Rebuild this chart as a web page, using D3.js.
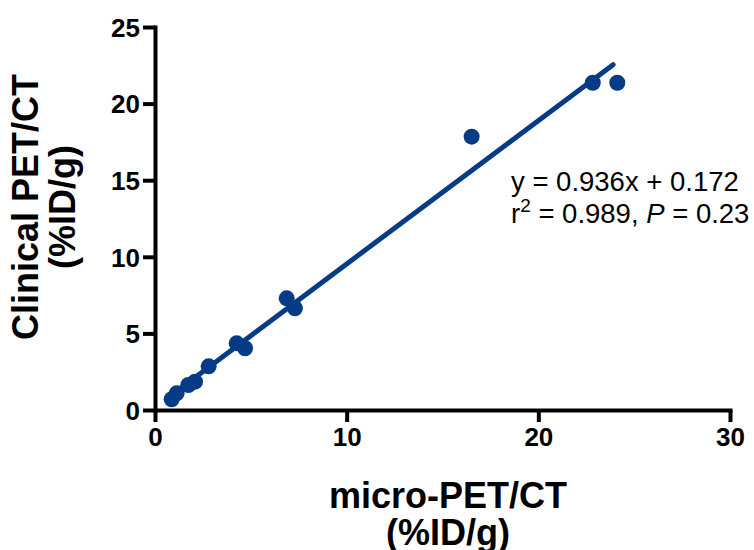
<!DOCTYPE html>
<html>
<head>
<meta charset="utf-8">
<script src="https://cdn.jsdelivr.net/npm/d3@7/dist/d3.min.js"></script>
<style>
  html, body { margin: 0; padding: 0; background: #fff; }
  svg { display: block; }
</style>
</head>
<body>
<svg id="chart" width="754" height="550"></svg>
<script>
// ---- Data ----
const microPET    = [0.87, 1.13, 1.74, 2.09, 2.80, 4.26, 4.70, 6.87, 7.30, 16.52, 22.84, 24.12];
const clinicalPET = [0.70, 1.09, 1.63, 1.85, 2.85, 4.35, 4.03, 7.29, 6.64, 17.84, 21.36, 21.36];
const fitSlope = 0.936;
const fitIntercept = 0.172;
const fitRange = [0.85, 23.9];
const xTicks = [0, 10, 20, 30];
const yTicks = [0, 5, 10, 15, 20, 25];
const xTitle = ["micro-PET/CT", "(%ID/g)"];
const yTitle = ["Clinical PET/CT", "(%ID/g)"];

const navy = "#073b86";
const svg = d3.select("#chart");

const x = d3.scaleLinear().domain([0, 30]).range([155, 730]);
const y = d3.scaleLinear().domain([0, 25]).range([410, 27]);

// axes
const xAxis = d3.axisBottom(x).tickValues(xTicks).tickSize(12).tickSizeOuter(0).tickPadding(6);
const yAxis = d3.axisLeft(y).tickValues(yTicks).tickSize(12).tickSizeOuter(0).tickPadding(3);

const gx = svg.append("g").attr("transform", `translate(0,${y(0)})`).call(xAxis);
const gy = svg.append("g").attr("transform", `translate(${x(0)},0)`).call(yAxis);

[gx, gy].forEach(g => {
  g.select(".domain").attr("stroke", "#000").attr("stroke-width", 4).attr("stroke-linecap", "square");
  g.selectAll(".tick line").attr("stroke", "#000").attr("stroke-width", 4);
  g.selectAll(".tick text")
    .attr("fill", "#000")
    .style("font-family", "'Liberation Sans', Arial, sans-serif")
    .style("font-weight", "bold")
    .style("font-size", "26px");
});
gy.selectAll(".tick text").attr("dy", "0.36em");

// fit line
svg.append("line")
  .attr("x1", x(fitRange[0])).attr("y1", y(fitSlope * fitRange[0] + fitIntercept))
  .attr("x2", x(fitRange[1])).attr("y2", y(fitSlope * fitRange[1] + fitIntercept))
  .attr("stroke", navy).attr("stroke-width", 5).attr("stroke-linecap", "round");

// points
svg.append("g").selectAll("circle")
  .data(microPET.map((v, i) => [v, clinicalPET[i]]))
  .join("circle")
  .attr("cx", d => x(d[0])).attr("cy", d => y(d[1])).attr("r", 8)
  .attr("fill", navy);

// axis titles
const titleFont = "'Liberation Sans', Arial, sans-serif";
const xt = svg.append("text")
  .attr("text-anchor", "middle")
  .style("font-family", titleFont).style("font-weight", "bold").style("font-size", "36px");
xt.selectAll("tspan").data(xTitle).join("tspan")
  .attr("x", 448).attr("y", (d, i) => 508 + i * 37).text(d => d);

const yt = svg.append("text")
  .attr("text-anchor", "middle")
  .attr("transform", "translate(0,207) rotate(-90)")
  .style("font-family", titleFont).style("font-weight", "bold").style("font-size", "36px");
yt.selectAll("tspan").data(yTitle).join("tspan")
  .attr("x", 0).attr("y", (d, i) => 38 + i * 37).text(d => d);

// annotation
const ann = svg.append("g")
  .style("font-family", titleFont).style("font-size", "27.5px").attr("fill", "#000");
ann.append("text").attr("x", 511).attr("y", 191).text(`y = ${fitSlope}x + ${fitIntercept}`);
const t2 = ann.append("text").attr("x", 511).attr("y", 223);
t2.append("tspan").text("r");
t2.append("tspan").attr("dy", -11).style("font-size", "19px").text("2");
t2.append("tspan").attr("dy", 11).text(" = 0.989, ");
t2.append("tspan").style("font-style", "italic").text("P");
t2.append("tspan").text(" = 0.23");
</script>
</body>
</html>
